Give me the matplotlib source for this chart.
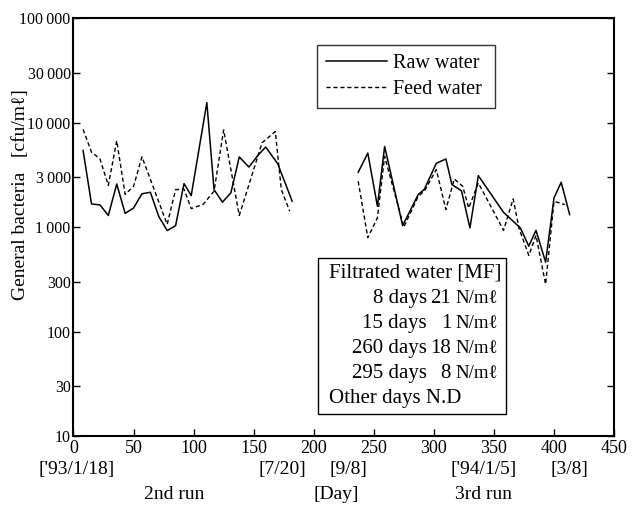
import numpy as np
import matplotlib
matplotlib.use("Agg")
import matplotlib.pyplot as plt
from matplotlib.patches import Rectangle

plt.rcParams['font.family'] = ['Liberation Serif', 'DejaVu Serif']
plt.rcParams['font.size'] = 13.5

# raw water, 2nd run and 3rd run
raw_days_2 = [8, 15, 22, 29, 36, 43, 50, 57, 64, 71, 78, 85, 92, 98,
              111, 117, 124, 131, 138, 146, 154, 160, 170, 182]
raw_vals_2 = [5400, 1660, 1630, 1290, 2580, 1350, 1520, 2080, 2150, 1260, 925, 1030, 2600, 2000,
              15500, 2280, 1730, 2120, 4680, 3750, 4920, 5820, 4040, 1770]
raw_days_3 = [237, 245, 253, 259, 274, 287, 292, 302, 310, 315, 323, 330, 337,
              358, 372, 379, 385, 393, 400, 406, 413]
raw_vals_3 = [3340, 5100, 1580, 5900, 1030, 2050, 2290, 4070, 4480, 2550, 2220, 980, 3100,
              1380, 980, 656, 930, 461, 1900, 2680, 1315]

# feed water
feed_days_2 = [8, 15, 22, 29, 36, 43, 50, 57, 78, 85, 92, 98,
               108, 117, 125, 138, 157, 168, 173, 180]
feed_vals_2 = [8600, 5200, 4500, 2500, 6700, 2050, 2450, 4700, 1060, 2280, 2300, 1500,
               1650, 2200, 8500, 1290, 6400, 8200, 2280, 1415]
feed_days_3 = [237, 245, 253, 259, 275, 287, 292, 302, 310, 317, 324, 329, 337,
               358, 366, 371, 379, 385, 393, 400, 409]
feed_vals_3 = [2740, 790, 1225, 4740, 1000, 1970, 2200, 3540, 1470, 2880, 2450, 1520, 2640,
               930, 1860, 960, 535, 830, 283, 1760, 1640]

y_ticks = [10, 30, 100, 300, 1000, 3000, 10000, 30000, 100000]
y_labels = ["10", "30", "100", "300", "1\u2009000", "3\u2009000", "10\u2009000",
            "30\u2009000", "100\u2009000"]
x_ticks = list(range(0, 451, 50))

date_labels = ["['93/1/18]", "[7/20]", "[9/8]", "['94/1/5]", "[3/8]"]
date_pos = [3, 174, 229, 341, 413]
run_labels = ["2nd run", "[Day]", "3rd run"]
run_pos = [84, 219, 341]

mf_days = ["8 days", "15 days", "260 days", "295 days"]
mf_counts = ["21", "1", "18", "8"]

fig = plt.figure(figsize=(6.39, 5.09), dpi=100)
ax = fig.add_axes([0.115, 0.1434, 0.846, 0.8212])

solid = dict(color='black', lw=1.1, ls='-')
dashed = dict(color='black', lw=1.0, ls=(0, (3, 2)))
ax.plot(raw_days_2, raw_vals_2, label='Raw water ', **solid)
ax.plot(raw_days_3, raw_vals_3, **solid)
ax.plot(feed_days_2, feed_vals_2, label='Feed water ', **dashed)
ax.plot(feed_days_3, feed_vals_3, **dashed)

ax.set_yscale('log')
ax.set_ylim(10, 100000)
ax.set_xlim(0, 450)
ax.set_yticks(y_ticks)
ax.set_yticklabels(y_labels)
ax.minorticks_off()
ax.set_xticks(x_ticks)
ax.tick_params(direction='in', length=5, width=1, right=True, pad=2, labelsize=11.5)
ax.tick_params(axis='x', pad=3, labelsize=13)
for s in ax.spines.values():
    s.set_linewidth(1.5)

tr = ax.transAxes
def fx(px):
    return (px - 73.5) / 540.5
def fy(py):
    return (436 - py) / 418.0

leg = ax.legend(loc='upper left', bbox_to_anchor=(fx(317), fy(45)), frameon=True,
                fancybox=False, edgecolor='black', handlelength=3.0,
                handletextpad=0.3, borderpad=0.45, labelspacing=0.35,
                borderaxespad=0, fontsize=14.5)
leg.get_frame().set_linewidth(1.0)

# filtrated water box
ax.add_patch(Rectangle((fx(318), fy(414)), fx(506) - fx(318), fy(258) - fy(414),
                       transform=tr, fill=False, lw=1.0, ec='black', zorder=5))
ax.text(fx(329), fy(273), "Filtrated water [MF]", transform=tr, ha='left', va='center', fontsize=15)
for i, (d, c) in enumerate(zip(mf_days, mf_counts)):
    y = fy(298 + 25 * i)
    ax.text(fx(427), y, d, transform=tr, ha='right', va='center', fontsize=15)
    ax.text(fx(451), y, c, transform=tr, ha='right', va='center', fontsize=15)
    ax.text(fx(455), y, "N/mℓ", transform=tr, ha='left', va='center', fontsize=13.5)
ax.text(fx(329), fy(398), "Other days N.D", transform=tr, ha='left', va='center', fontsize=15)

xtr = ax.get_xaxis_transform()
for lab, p in zip(date_labels, date_pos):
    ax.text(p, fy(469), lab, transform=xtr, ha='center', va='center', fontsize=14)
for lab, p in zip(run_labels, run_pos):
    ax.text(p, fy(494), lab, transform=xtr, ha='center', va='center', fontsize=14)

fig.text(21 / 639, 1 - 195 / 509, "General bacteria   [cfu/mℓ]", rotation=90,
         ha='center', va='center', fontsize=14)

fig.savefig('out.png', dpi=100)
